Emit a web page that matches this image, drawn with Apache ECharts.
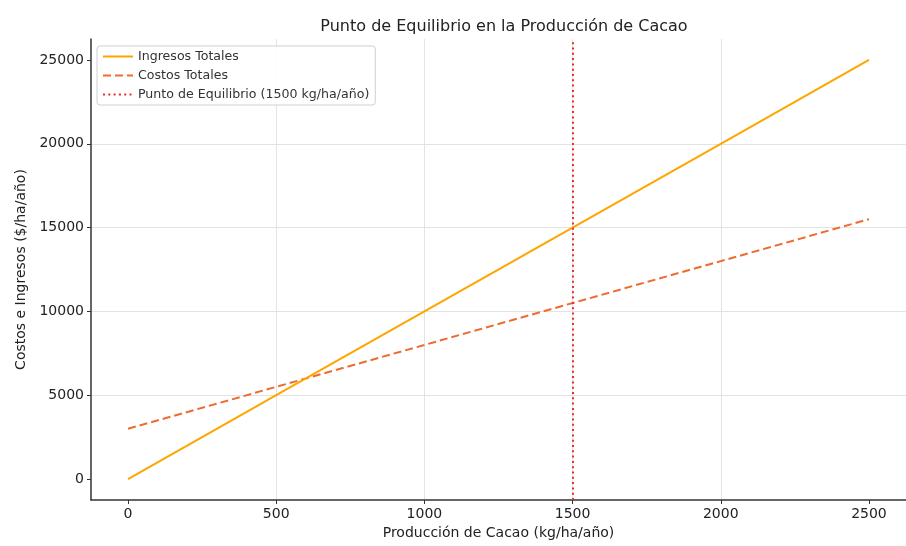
<!DOCTYPE html>
<html>
<head>
<meta charset="utf-8">
<script src="https://cdn.jsdelivr.net/npm/echarts@6/dist/echarts.min.js"></script>
<style>
  html, body { margin: 0; padding: 0; background: #ffffff; }
  #chart { width: 906px; height: 546px; }
</style>
</head>
<body>
<div id="chart"></div>
<script>
// Production levels (kg/ha/año)
const produccion = [0, 500, 1000, 1500, 2000, 2500];
// Total revenue and total cost ($/ha/año) at each production level
const ingresosTotales = [0, 5000, 10000, 15000, 20000, 25000];
const costosTotales = [3000, 5500, 8000, 10500, 13000, 15500];
// Break-even production level marked on the chart
const puntoEquilibrio = 1500;
// Tick labels
const xTicks = [0, 500, 1000, 1500, 2000, 2500];
const yTicks = [0, 5000, 10000, 15000, 20000, 25000];

const fontFam = '"DejaVu Sans", sans-serif';
const chart = echarts.init(document.getElementById('chart'), null, { renderer: 'canvas' });

const pairs = (xs, ys) => xs.map((x, i) => [x, ys[i]]);
const plain = v => String(v);

chart.setOption({
  animation: false,
  backgroundColor: '#ffffff',
  textStyle: { fontFamily: fontFam },
  title: {
    text: 'Punto de Equilibrio en la Producción de Cacao',
    left: 499,
    textAlign: 'center',
    top: 14,
    textStyle: { fontFamily: fontFam, fontSize: 16, fontWeight: 'normal', color: '#222' }
  },
  legend: {
    orient: 'vertical',
    left: 97,
    top: 46,
    padding: [4, 6, 4, 5],
    itemWidth: 30,
    itemHeight: 12,
    itemGap: 6,
    itemStyle: { opacity: 0 },
    backgroundColor: 'rgba(255,255,255,0.85)',
    borderColor: '#d0d0d0',
    borderWidth: 1,
    borderRadius: 3,
    textStyle: { fontFamily: fontFam, fontSize: 12.6, color: '#333' },
    data: ['Ingresos Totales', 'Costos Totales', 'Punto de Equilibrio (1500 kg/ha/año)']
  },
  grid: { left: 91, right: 0, top: 39, bottom: 46, containLabel: false },
  xAxis: {
    type: 'value',
    min: -125,
    max: 2625,
    interval: 500,
    name: 'Producción de Cacao (kg/ha/año)',
    nameLocation: 'middle',
    nameGap: 23,
    nameTextStyle: { fontFamily: fontFam, fontSize: 14, color: '#222' },
    axisLine: { show: true, onZero: false, lineStyle: { color: '#333', width: 1.5 } },
    axisTick: { show: true, length: 4, customValues: xTicks, lineStyle: { color: '#333' } },
    axisLabel: {
      customValues: xTicks,
      formatter: plain,
      margin: 7,
      fontFamily: fontFam, fontSize: 14, color: '#222'
    },
    splitLine: { show: true, showMinLine: false, showMaxLine: false, lineStyle: { color: '#e3e3e3', width: 1 } }
  },
  yAxis: {
    type: 'value',
    min: -1250,
    max: 26250,
    interval: 5000,
    name: 'Costos e Ingresos ($/ha/año)',
    nameLocation: 'middle',
    nameGap: 50,
    nameTextStyle: { fontFamily: fontFam, fontSize: 14, color: '#222' },
    axisLine: { show: true, onZero: false, lineStyle: { color: '#333', width: 1.5 } },
    axisTick: { show: true, length: 4, customValues: yTicks, lineStyle: { color: '#333' } },
    axisLabel: {
      customValues: yTicks,
      formatter: plain,
      margin: 7,
      fontFamily: fontFam, fontSize: 14, color: '#222'
    },
    splitLine: { show: true, showMinLine: false, showMaxLine: false, lineStyle: { color: '#e3e3e3', width: 1 } }
  },
  series: [
    {
      name: 'Ingresos Totales',
      type: 'line',
      data: pairs(produccion, ingresosTotales),
      symbol: 'none',
      color: '#ffa500',
      lineStyle: { color: '#ffa500', width: 2 },
      z: 3
    },
    {
      name: 'Costos Totales',
      type: 'line',
      data: pairs(produccion, costosTotales),
      symbol: 'none',
      color: '#ef6a2e',
      lineStyle: { color: '#ef6a2e', width: 2, type: [8, 4] },
      z: 2
    },
    {
      name: 'Punto de Equilibrio (1500 kg/ha/año)',
      type: 'line',
      data: [],
      symbol: 'none',
      color: '#e8302e',
      lineStyle: { color: '#e8302e', width: 2, type: [2, 3.3] },
      markLine: {
        silent: true,
        symbol: 'none',
        label: { show: false },
        lineStyle: { color: '#e8302e', width: 2, type: [2, 3.3] },
        data: [{ xAxis: puntoEquilibrio }]
      },
      z: 4
    }
  ]
});
</script>
</body>
</html>
